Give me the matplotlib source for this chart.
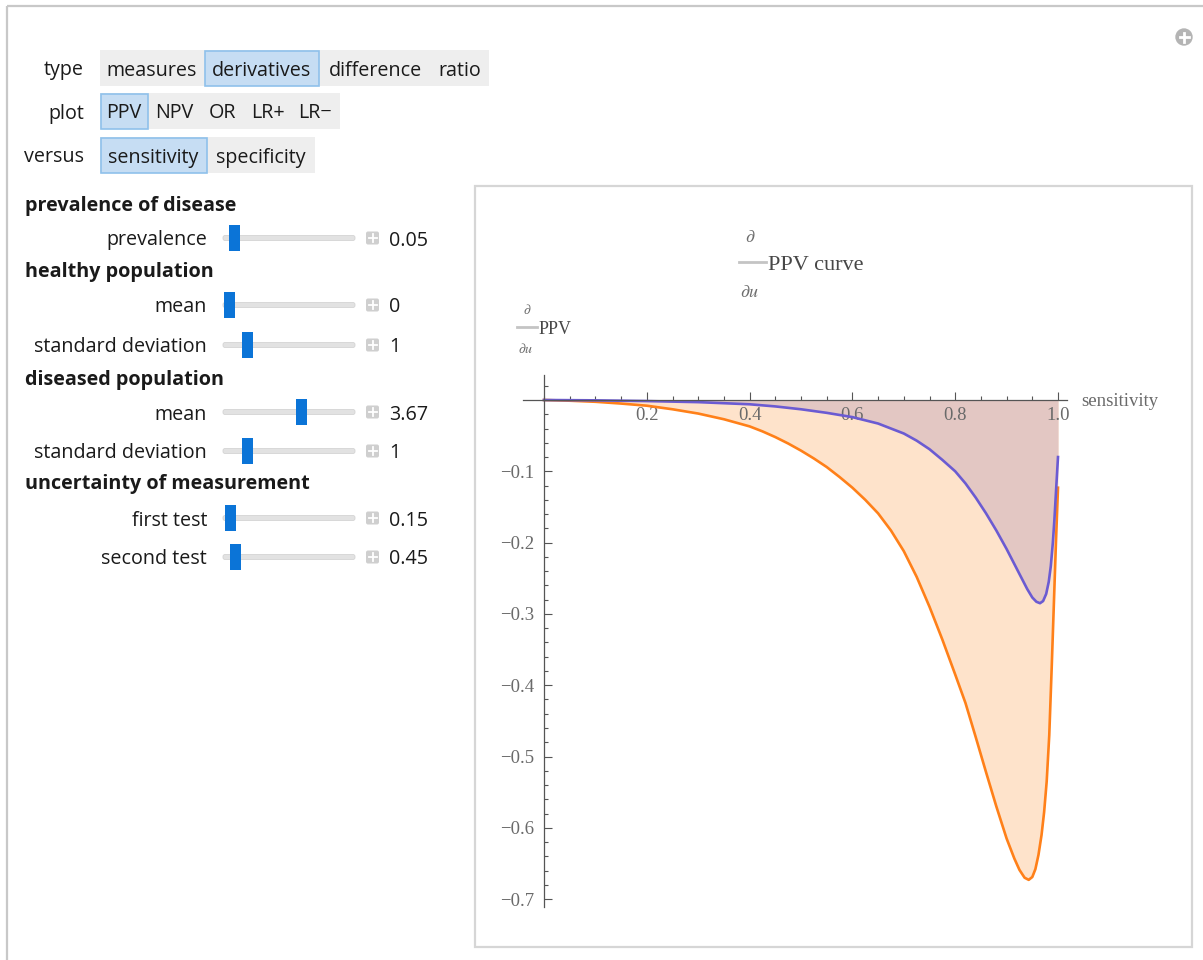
"""Derivative of PPV vs sensitivity, redrawn as a Manipulate-style panel."""

import matplotlib

matplotlib.use("Agg")
import matplotlib.pyplot as plt
from matplotlib.patches import Circle, FancyBboxPatch, Rectangle
from matplotlib.ticker import FixedLocator, FuncFormatter

W, H = 1203, 960

# curves (sensitivity -> d/du PPV)
ORANGE_X = [0.0, 0.05, 0.1, 0.15, 0.2, 0.25, 0.3, 0.35, 0.4, 0.425, 0.45, 0.475,
            0.5, 0.525, 0.55, 0.575, 0.6, 0.625, 0.65, 0.675, 0.7, 0.725, 0.75,
            0.775, 0.8, 0.82, 0.84, 0.86, 0.88, 0.9, 0.915, 0.925, 0.935, 0.943,
            0.95, 0.956, 0.962, 0.968, 0.973, 0.978, 0.983, 0.988, 0.992, 0.996, 1.0]
ORANGE_Y = [0.0, -0.001, -0.0025, -0.005, -0.008, -0.013, -0.019, -0.027, -0.037,
            -0.044, -0.052, -0.061, -0.071, -0.082, -0.094, -0.108, -0.123, -0.140,
            -0.159, -0.183, -0.212, -0.248, -0.29, -0.336, -0.385, -0.425, -0.473,
            -0.522, -0.57, -0.615, -0.643, -0.659, -0.670, -0.673, -0.669, -0.658,
            -0.638, -0.61, -0.578, -0.535, -0.47, -0.37, -0.285, -0.2, -0.123]
PURPLE_X = [0.0, 0.1, 0.2, 0.3, 0.4, 0.45, 0.5, 0.55, 0.6, 0.65, 0.7, 0.725, 0.75,
            0.775, 0.8, 0.82, 0.84, 0.86, 0.88, 0.9, 0.915, 0.93, 0.94, 0.95, 0.958,
            0.965, 0.971, 0.977, 0.982, 0.986, 0.99, 0.993, 0.996, 0.998, 1.0]
PURPLE_Y = [0.0, -0.0005, -0.0015, -0.003, -0.006, -0.009, -0.013, -0.018, -0.024,
            -0.033, -0.047, -0.057, -0.069, -0.084, -0.1, -0.117, -0.137, -0.159,
            -0.183, -0.209, -0.23, -0.251, -0.265, -0.277, -0.283, -0.285, -0.282,
            -0.272, -0.255, -0.233, -0.2, -0.168, -0.13, -0.105, -0.08]

X_MAJOR = [0.2, 0.4, 0.6, 0.8, 1.0]
X_MINOR = [0.05 * i for i in range(21)]
Y_MAJOR = [-0.1, -0.2, -0.3, -0.4, -0.5, -0.6, -0.7]
Y_MINOR = [-0.7 + 0.02 * i for i in range(37)]

TYPE_LABELS = ["measures", "derivatives", "difference", "ratio"]
PLOT_LABELS = ["PPV", "NPV", "OR", "LR+", "LR\u2212"]
VERSUS_LABELS = ["sensitivity", "specificity"]
SELECTED = [1, 0, 0]

HEADERS = ["prevalence of disease", "healthy population", "diseased population",
           "uncertainty of measurement"]
SLIDER_NAMES = ["prevalence", "mean", "standard deviation", "mean",
                "standard deviation", "first test", "second test"]
SLIDER_VALUES = ["0.05", "0", "1", "3.67", "1", "0.15", "0.45"]
SLIDER_FRAC = [0.045, 0.0, 0.15, 0.6, 0.15, 0.013, 0.058]

UI_FONT = ["Open Sans", "DejaVu Sans"]
UI_SIZE = 14.2
SERIF = ["Liberation Serif", "DejaVu Serif"]
TXT = "#1a1a1a"
GREY = "#6e6e6e"

plt.rcParams["mathtext.fontset"] = "stix"

fig = plt.figure(figsize=(W / 100, H / 100), dpi=100)
ui = fig.add_axes([0, 0, 1, 1])
ui.set_xlim(0, W)
ui.set_ylim(H, 0)
ui.axis("off")

# outer panel frame and corner icon
ui.plot([7, 7], [6, H], color="#c8c8c8", lw=1.6, solid_capstyle="butt")
ui.plot([7, W], [6, 6], color="#c8c8c8", lw=1.6, solid_capstyle="butt")
ui.add_patch(Circle((1184, 37), 8, color="#b4b4b4"))
ui.plot([1179.5, 1188.5], [37, 37], color="white", lw=2)
ui.plot([1184, 1184], [32.5, 41.5], color="white", lw=2)

# setter bars
rows = [
    ("type", TYPE_LABELS, [100, 204, 319, 431, 489], (50, 86)),
    ("plot", PLOT_LABELS, [100, 148, 200, 246, 290, 340], (93, 129)),
    ("versus", VERSUS_LABELS, [100, 207, 315], (137, 173)),
]
for (name, labels, edges, (y0, y1)), sel in zip(rows, SELECTED):
    yc = (y0 + y1) / 2
    ui.text(84, yc, name, ha="right", va="center_baseline", fontsize=UI_SIZE,
            family=UI_FONT, color=TXT)
    ui.add_patch(Rectangle((edges[0], y0), edges[-1] - edges[0], y1 - y0,
                           facecolor="#eeeeee", edgecolor="none"))
    for i, lab in enumerate(labels):
        if i == sel:
            ui.add_patch(Rectangle((edges[i] + 0.5, y0 + 0.5), edges[i + 1] - edges[i] - 1,
                                   y1 - y0 - 1, facecolor="#c6ddf3", edgecolor="#8fc1eb",
                                   lw=1.2))
        ui.text((edges[i] + edges[i + 1]) / 2, yc, lab, ha="center", va="center_baseline",
                fontsize=UI_SIZE, family=UI_FONT, color=TXT)

# sliders
layout = [("h", 0, 203), ("s", 0, 238), ("h", 1, 270), ("s", 1, 305), ("s", 2, 345),
          ("h", 2, 377), ("s", 3, 412), ("s", 4, 451), ("h", 3, 482), ("s", 5, 518),
          ("s", 6, 557)]
for kind, idx, y in layout:
    if kind == "h":
        ui.text(25, y, HEADERS[idx], ha="left", va="center_baseline", fontsize=UI_SIZE,
                family=UI_FONT, weight="bold", color=TXT)
        continue
    ui.text(207, y, SLIDER_NAMES[idx], ha="right", va="center_baseline", fontsize=UI_SIZE,
            family=UI_FONT, color=TXT)
    ui.add_patch(FancyBboxPatch((223, y - 2.5), 132, 5, boxstyle="round,pad=0,rounding_size=2",
                                facecolor="#e2e2e2", edgecolor="#d4d4d4", lw=0.6))
    cx = 229 + 120 * SLIDER_FRAC[idx]
    ui.add_patch(Rectangle((cx - 5.5, y - 13), 11, 26, facecolor="#0b74d7", edgecolor="none"))
    ui.add_patch(FancyBboxPatch((366, y - 6.5), 13, 13, boxstyle="round,pad=0,rounding_size=2",
                                facecolor="#cfcfcf", edgecolor="none"))
    ui.plot([368.5, 376.5], [y, y], color="white", lw=1.3)
    ui.plot([372.5, 372.5], [y - 4, y + 4], color="white", lw=1.3)
    ui.text(389, y, SLIDER_VALUES[idx], ha="left", va="center_baseline", fontsize=UI_SIZE,
            family=UI_FONT, color=TXT)

# plot frame
ui.add_patch(Rectangle((475, 186), 717, 761, fill=False, edgecolor="#d6d6d6", lw=1.6))

# plot label: d/du PPV curve
ui.text(750, 237, r"$\partial$", ha="center", va="center", fontsize=13, color=GREY)
ui.plot([739, 766], [262, 262], color="#c4c4c4", lw=2)
ui.text(768, 263, "PPV curve", ha="left", va="center_baseline", fontsize=16,
        family=SERIF, color="#474747")
ui.text(750, 292, r"$\partial u$", ha="center", va="center", fontsize=13, color=GREY)

# axis label: d/du PPV
ui.text(527, 310, r"$\partial$", ha="center", va="center", fontsize=10, color=GREY)
ui.plot([517, 537], [327, 327], color="#c4c4c4", lw=2)
ui.text(539, 328, "PPV", ha="left", va="center_baseline", fontsize=13,
        family=SERIF, color="#474747")
ui.text(526, 349, r"$\partial u$", ha="center", va="center", fontsize=10, color=GREY)

# chart axes mapped onto pixels: x_px = 544 + 514*x, y_px = 400 - 713*y
xlo, xhi, ylo, yhi = -0.05, 1.05, -0.72, 0.04
l_px, r_px = 544 + 514 * xlo, 544 + 514 * xhi
t_px, b_px = 400 - 713 * yhi, 400 - 713 * ylo
ax = fig.add_axes([l_px / W, 1 - b_px / H, (r_px - l_px) / W, (b_px - t_px) / H])
ax.set_facecolor("none")
ax.set_xlim(xlo, xhi)
ax.set_ylim(ylo, yhi)

ax.fill_between(ORANGE_X, ORANGE_Y, 0, color="#fee3cb", lw=0, zorder=1)
ax.fill_between(PURPLE_X, PURPLE_Y, 0, color="#e3c7c3", lw=0, zorder=1.2)
ax.plot(ORANGE_X, ORANGE_Y, color="#ff8019", lw=1.9, zorder=3, solid_joinstyle="round")
ax.plot(PURPLE_X, PURPLE_Y, color="#6b5bd2", lw=1.9, zorder=3.1, solid_joinstyle="round")

for side in ("top", "right"):
    ax.spines[side].set_visible(False)
ax.spines["bottom"].set_position(("data", 0))
ax.spines["left"].set_position(("data", 0))
ax.spines["bottom"].set_bounds(-0.04, 1.017)
ax.spines["left"].set_bounds(-0.711, 0.035)
for side in ("bottom", "left"):
    ax.spines[side].set_color("#555555")
    ax.spines[side].set_linewidth(0.9)
    ax.spines[side].set_zorder(4)

ax.xaxis.set_major_locator(FixedLocator(X_MAJOR))
ax.xaxis.set_minor_locator(FixedLocator(X_MINOR))
ax.yaxis.set_major_locator(FixedLocator(Y_MAJOR))
ax.yaxis.set_minor_locator(FixedLocator(Y_MINOR))
ax.xaxis.set_major_formatter(FuncFormatter(lambda v, p: f"{v:.1f}"))
ax.yaxis.set_major_formatter(FuncFormatter(lambda v, p: f"\u2212{abs(v):.1f}"))
ax.tick_params(which="both", direction="in", color="#555555", width=0.8,
               labelcolor="#6a6a6a", labelsize=13.5)
ax.tick_params(which="major", length=6)
ax.tick_params(which="minor", length=3.2)
ax.tick_params(axis="x", which="major", pad=5)
ax.tick_params(axis="y", which="major", pad=7)
for lab in ax.get_xticklabels() + ax.get_yticklabels():
    lab.set_family(SERIF)

ax.text(1.046, 0, "sensitivity", ha="left", va="center_baseline", fontsize=13.5,
        family=SERIF, color="#6a6a6a")

fig.savefig("out.png", dpi=100)
